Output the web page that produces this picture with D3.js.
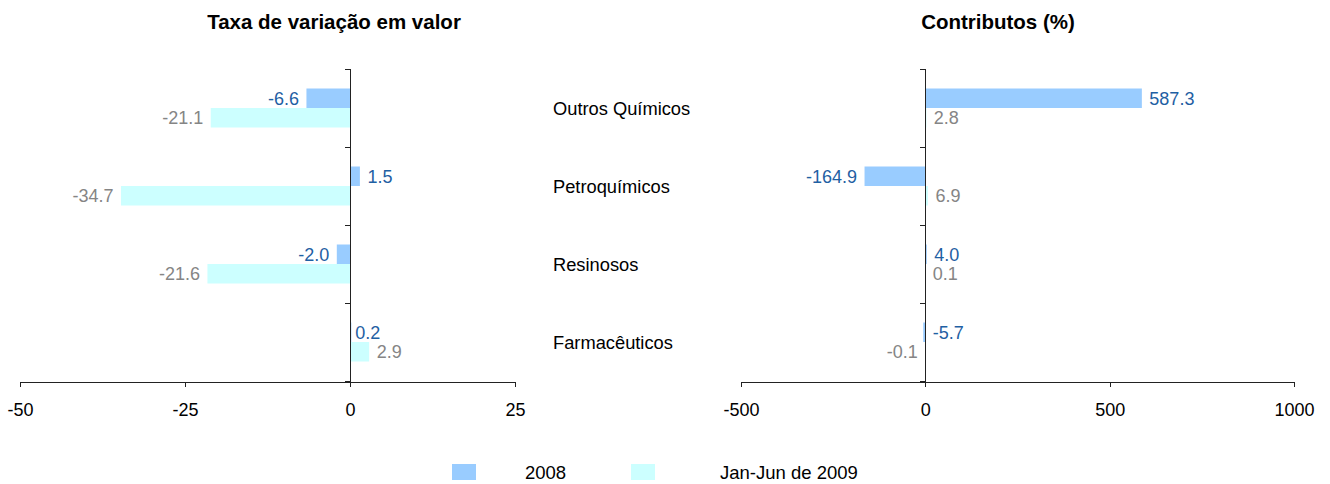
<!DOCTYPE html>
<html>
<head>
<meta charset="utf-8">
<script src="https://cdn.jsdelivr.net/npm/d3@7"></script>
<style>
  body { margin: 0; background: #fff; }
  svg { font-family: "Liberation Sans", Arial, sans-serif; }
  .axis path, .axis line { stroke: #222; shape-rendering: crispEdges; }
  .axis text { font-size: 18px; fill: #000; font-family: "Liberation Sans", Arial, sans-serif; }
</style>
</head>
<body>
<svg id="chart"></svg>
<script>
var categories = ["Outros Químicos", "Petroquímicos", "Resinosos", "Farmacêuticos"];
var seriesNames = ["2008", "Jan-Jun de 2009"];
var taxa2008 = [-6.6, 1.5, -2.0, 0.2];
var taxa2009 = [-21.1, -34.7, -21.6, 2.9];
var contrib2008 = [587.3, -164.9, 4.0, -5.7];
var contrib2009 = [2.8, 6.9, 0.1, -0.1];
var taxaTicks = [-50, -25, 0, 25];
var contribTicks = [-500, 0, 500, 1000];

var width = 1330, height = 484;
var barColors = ["#99ccff", "#ccffff"];
var labelColors = ["#1f60a3", "#858585"];

var svg = d3.select("#chart")
  .attr("width", width)
  .attr("height", height);

var top0 = 69, bottom0 = 381;

var y = d3.scaleBand()
  .domain(categories)
  .range([top0, bottom0])
  .paddingInner(0.5)
  .paddingOuter(0.25);

var fmt = function(v) { return d3.format(".1f")(v).replace("\u2212", "-"); };

var charts = [
  {id: "taxa", title: "Taxa de variação em valor", titleX: 334,
   domain: [-50, 25], range: [20, 515], ticks: taxaTicks,
   values: [taxa2008, taxa2009]},
  {id: "contrib", title: "Contributos (%)", titleX: 998,
   domain: [-500, 1000], range: [741, 1294], ticks: contribTicks,
   values: [contrib2008, contrib2009]}
];

charts.forEach(function(c) {
  var x = d3.scaleLinear().domain(c.domain).range(c.range);
  var g = svg.append("g");
  var half = y.bandwidth() / 2;

  svg.append("text")
    .attr("x", c.titleX)
    .attr("y", 29)
    .attr("text-anchor", "middle")
    .style("font-size", "20.5px")
    .style("font-weight", "bold")
    .text(c.title);

  var rows = [];
  c.values.forEach(function(vals, s) {
    vals.forEach(function(v, i) {
      rows.push({cat: categories[i], v: v, s: s});
    });
  });

  g.selectAll("rect.bar")
    .data(rows)
    .enter()
    .append("rect")
    .attr("class", "bar")
    .attr("x", function(d) { return Math.min(x(0), x(d.v)); })
    .attr("y", function(d) { return y(d.cat) + d.s * half; })
    .attr("width", function(d) { return Math.abs(x(d.v) - x(0)); })
    .attr("height", half)
    .attr("fill", function(d) { return barColors[d.s]; });

  // the -5.7 label sits right of the axis in the original
  var onRight = function(d) {
    return d.v >= 0 || (c.id === "contrib" && d.s === 0 && d.cat === "Farmacêuticos");
  };

  g.selectAll("text.val")
    .data(rows)
    .enter()
    .append("text")
    .attr("class", "val")
    .attr("x", function(d) {
      var gap = Math.abs(x(d.v) - x(0)) < 3 && c.id === "taxa" ? 4 : 7.5;
      return onRight(d) ? Math.max(x(0), x(d.v)) + gap : x(d.v) - 7.5;
    })
    .attr("y", function(d) { return y(d.cat) + d.s * half + half / 2; })
    .attr("dy", "0.36em")
    .attr("text-anchor", function(d) { return onRight(d) ? "start" : "end"; })
    .style("font-size", "18px")
    .attr("fill", function(d) { return labelColors[d.s]; })
    .text(function(d) { return fmt(d.v); });

  // x axis
  svg.append("g")
    .attr("class", "axis")
    .attr("transform", "translate(0," + (bottom0 + 0.5) + ")")
    .call(d3.axisBottom(x)
      .tickValues(c.ticks)
      .tickSize(5)
      .tickSizeOuter(0)
      .tickPadding(17)
      .tickFormat(function(d) { return String(d); }));

  // y axis at zero with category separators
  var step = y.step();
  var yTicks = d3.range(categories.length + 1).map(function(i) { return top0 + i * step; });
  var ya = svg.append("g").attr("class", "axis");
  ya.append("line")
    .attr("x1", Math.round(x(0)) + 0.5).attr("x2", Math.round(x(0)) + 0.5)
    .attr("y1", top0).attr("y2", bottom0 + 1);
  ya.selectAll("line.tk")
    .data(yTicks)
    .enter()
    .append("line")
    .attr("class", "tk")
    .attr("x1", Math.round(x(0)) - 5).attr("x2", Math.round(x(0)) + 0.5)
    .attr("y1", function(d) { return d + 0.5; })
    .attr("y2", function(d) { return d + 0.5; });
});

// category labels between the two panels
svg.selectAll("text.cat")
  .data(categories)
  .enter()
  .append("text")
  .attr("class", "cat")
  .attr("x", 553)
  .attr("y", function(d) { return y(d) + y.bandwidth() / 2; })
  .attr("dy", "0.36em")
  .style("font-size", "18.3px")
  .text(function(d) { return d; });

// legend
var legendX = [452, 631];
var legendTextX = [525, 720];
var legend = svg.selectAll("g.leg")
  .data(seriesNames)
  .enter()
  .append("g")
  .attr("class", "leg");

legend.append("rect")
  .attr("x", function(d, i) { return legendX[i]; })
  .attr("y", 464)
  .attr("width", 24)
  .attr("height", 16)
  .attr("fill", function(d, i) { return barColors[i]; });

legend.append("text")
  .attr("x", function(d, i) { return legendTextX[i]; })
  .attr("y", 472)
  .attr("dy", "0.36em")
  .style("font-size", "18.5px")
  .text(function(d) { return d; });
</script>
</body>
</html>
